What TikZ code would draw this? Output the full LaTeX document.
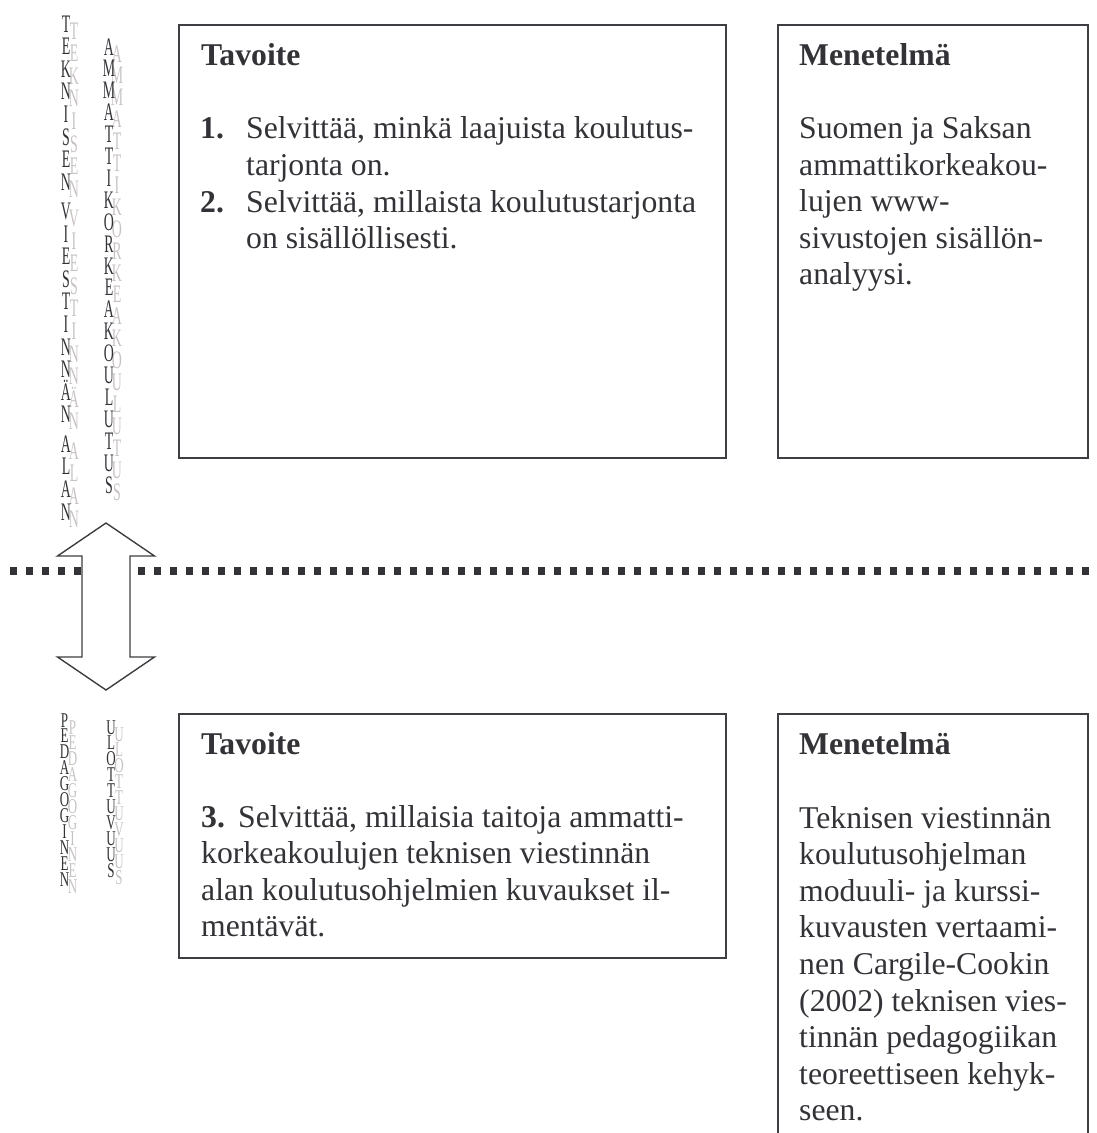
\documentclass[tikz,border=0pt]{standalone}
\usepackage{fontspec}
\setmainfont{Liberation Serif}
\definecolor{ink}{RGB}{50,50,55}
\definecolor{shade}{RGB}{200,194,194}
\definecolor{frame}{RGB}{62,62,66}
\newcommand\vcol[7]{%
 \foreach \ch [count=\i from 0] in {#4} {
   \node[vlet,#7,text=shade] (#6s\i) at ({#1+8},{#2+7+\i*#3}) {\scalebox{#5}[1]{\ch}};
 }
 \foreach \ch [count=\i from 0] in {#4} {
   \node[vlet,#7,text=ink] (#6m\i) at (#1,{#2+\i*#3}) {\scalebox{#5}[1]{\ch}};
 }}
\begin{document}
\begin{tikzpicture}[x=1pt,y=-1pt,
  txt/.style={anchor=base west, inner sep=0pt, text=ink, font=\fontsize{31.7}{36.5}\selectfont},
  head/.style={anchor=base west, inner sep=0pt, text=ink, font=\fontsize{31.7}{36.5}\selectfont\bfseries},
  frm/.style={draw=frame, line width=1.4pt},
  vlet/.style={anchor=base, inner sep=0pt},
  vbig/.style={font=\fontsize{25.2}{25}\selectfont},
  vsmall/.style={font=\fontsize{21}{21}\selectfont},
  ]
\useasboundingbox (0,0) rectangle (1096,1133);

% boxes
\draw[frm] (179,25) rectangle (726,458);
\draw[frm] (778,25) rectangle (1088,458);
\draw[frm] (179,714) rectangle (726,958);
\draw[frm] (778,1145) -- (778,714) -- (1088,714) -- (1088,1145);

% box 1
\node[head] (h1) at (201,65) {Tavoite};
\node[head] (n1) at (200,138) {1.};
\node[txt] (t1a) at (246,138) {Selvittää, minkä laajuista koulutus-};
\node[txt] (t1b) at (246,175) {tarjonta on.};
\node[head] (n2) at (200,212) {2.};
\node[txt] (t1c) at (246,212) {Selvittää, millaista koulutustarjonta};
\node[txt] (t1d) at (246,248) {on sisällöllisesti.};

% box 2
\node[head] (h2) at (799,65) {Menetelmä};
\node[txt] (t2a) at (799,138) {Suomen ja Saksan};
\node[txt] (t2b) at (799,175) {ammattikorkeakou-};
\node[txt] (t2c) at (799,211) {lujen www-};
\node[txt] (t2d) at (799,248) {sivustojen sisällön-};
\node[txt] (t2e) at (799,284) {analyysi.};

% box 3
\node[head] (h3) at (201,754) {Tavoite};
\node[head] (n3) at (201,827) {3.};
\node[txt] (t3a) at (238,827) {Selvittää, millaisia taitoja ammatti-};
\node[txt] (t3b) at (201,863) {korkeakoulujen teknisen viestinnän};
\node[txt] (t3c) at (201,900) {alan koulutusohjelmien kuvaukset il-};
\node[txt] (t3d) at (201,936) {mentävät.};

% box 4
\node[head] (h4) at (799,754) {Menetelmä};
\node[txt] (t4a) at (799,828) {Teknisen viestinnän};
\node[txt] (t4b) at (799,864) {koulutusohjelman};
\node[txt] (t4c) at (799,901) {moduuli- ja kurssi-};
\node[txt] (t4d) at (799,937) {kuvausten vertaami-};
\node[txt] (t4e) at (799,974) {nen Cargile-Cookin};
\node[txt] (t4f) at (799,1011) {(2002) teknisen vies-};
\node[txt] (t4g) at (799,1047) {tinnän pedagogiikan};
\node[txt] (t4h) at (799,1084) {teoreettiseen kehyk-};
\node[txt] (t4i) at (799,1120) {seen.};

% vertical labels
\vcol{66}{32}{22.6}{T,E,K,N,I,S,E,N}{0.55}{wa}{vbig}
\vcol{66}{219.5}{22.6}{V,I,E,S,T,I,N,N,Ä,N}{0.55}{wb}{vbig}
\vcol{66}{452.2}{22.6}{A,L,A,N}{0.55}{wc}{vbig}
\vcol{109}{55}{21.9}{A,M,M,A,T,T,I,K,O,R,K,E,A,K,O,U,L,U,T,U,S}{0.55}{wd}{vbig}
\vcol{64.5}{727}{15.9}{P,E,D,A,G,O,G,I,N,E,N}{0.62}{we}{vsmall}
\vcol{111}{734}{15.9}{U,L,O,T,T,U,V,U,U,S}{0.62}{wf}{vsmall}

% dotted separator
\coordinate (dl) at (10,571);
\coordinate (dr) at (1100,571);
\draw[draw=ink, line width=7.5pt, dash pattern=on 7pt off 9pt] (dl) -- (dr);

% double arrow
\draw[draw=frame, fill=white, line width=1.4pt, line join=miter]
  (106,523) -- (154.5,556) -- (130,556) -- (130,657) -- (154.5,657) -- (106,690)
  -- (57.5,657) -- (82,657) -- (82,556) -- (57.5,556) -- cycle;
\end{tikzpicture}
\end{document}
